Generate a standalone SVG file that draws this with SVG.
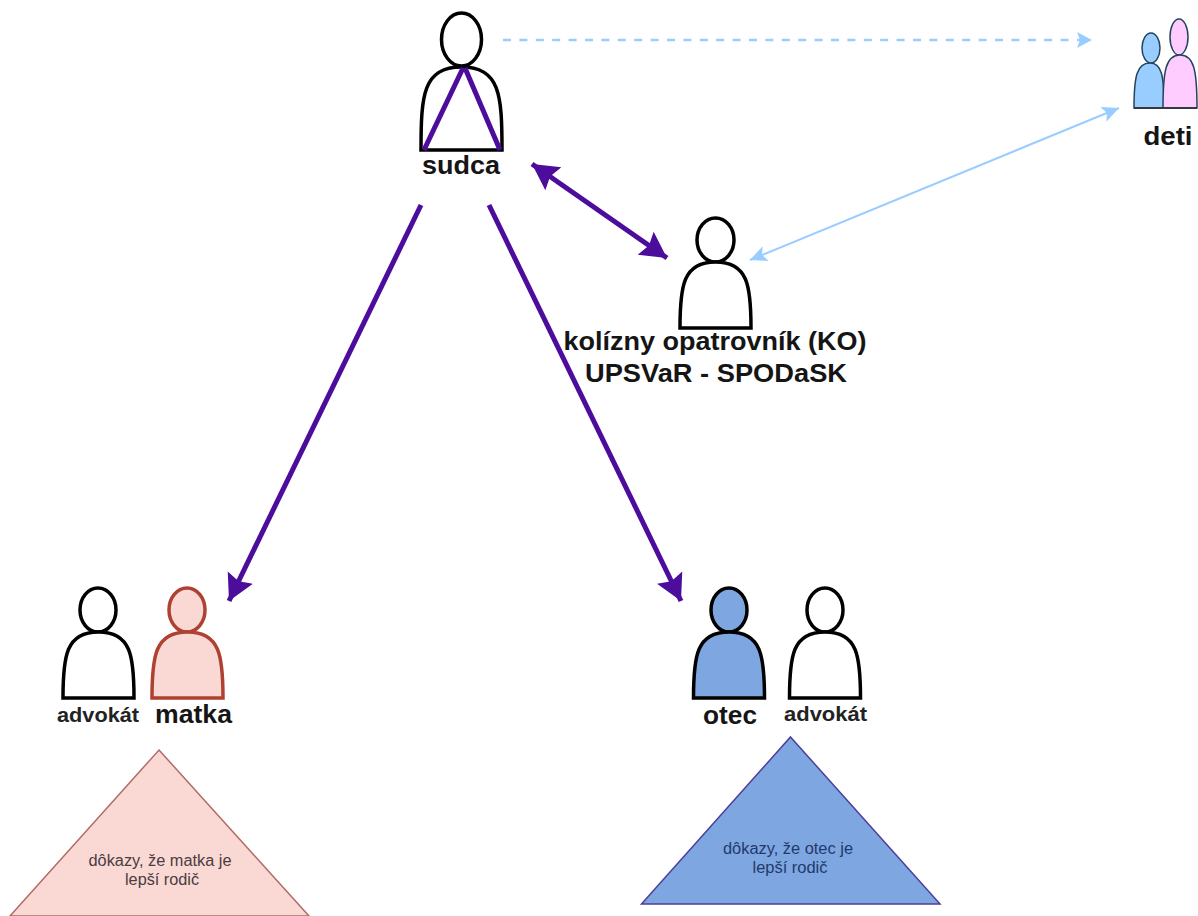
<svg xmlns="http://www.w3.org/2000/svg" width="1198" height="916" viewBox="0 0 1198 916">
<defs>
<path id="p" d="M0,0 C0,-42 3,-66 35.500,-66 C68,-66 71,-42 71,0 Z"/>
<marker id="ap" markerUnits="userSpaceOnUse" markerWidth="30" markerHeight="30" refX="26" refY="15" orient="auto-start-reverse" viewBox="0 0 30 30"><path d="M0,1 L26,15 L0,29 L4,15 Z" fill="#4c0c9c"/></marker>
<marker id="ab" markerUnits="userSpaceOnUse" markerWidth="20" markerHeight="20" refX="17" refY="10" orient="auto-start-reverse" viewBox="0 0 20 20"><path d="M0,2 L17,10 L0,18 L4,10 Z" fill="#99ccff"/></marker>
</defs>
<style>
text{font-family:"Liberation Sans",Arial,sans-serif;text-anchor:middle;fill:#151515}
.b{font-weight:bold;font-size:26px}
.s{font-weight:bold;font-size:20.500px;fill:#222}
.t{font-size:16px;fill:#4a3c40}
.u{font-size:16px;fill:#233a6e}
.w{fill:#fff;stroke:#000;stroke-width:3.500}
.pur{fill:none;stroke:#4c0c9c;stroke-width:5}
.lb{fill:none;stroke:#99ccff;stroke-width:2.500}
</style>
<rect width="1198" height="916" fill="#fff"/>
<g id="sudca">
<ellipse class="w" cx="461.500" cy="39.500" rx="20" ry="26.500"/>
<path class="w" d="M421,150 C421,95 423,67 461.500,67 C500,67 502,95 502,150 Z"/>
<text class="b" x="461" y="174" textLength="78" lengthAdjust="spacingAndGlyphs">sudca</text>
</g>
<g id="deti">
<ellipse cx="1151" cy="48" rx="9" ry="15" fill="#99ccff" stroke="#23445d" stroke-width="1.500"/>
<path d="M1134,108 C1134,76 1137,63 1150,63 C1162,63 1164,76 1164,108 Z" fill="#99ccff" stroke="#23445d" stroke-width="1.500"/>
<ellipse cx="1179" cy="37" rx="9" ry="18" fill="#ffccff" stroke="#23445d" stroke-width="1.500"/>
<path d="M1163,108 C1163,70 1166,55 1180,55 C1194,55 1197,70 1197,108 Z" fill="#ffccff" stroke="#23445d" stroke-width="1.500"/>
<path d="M1134,108 L1197,108" fill="none" stroke="#36393d" stroke-width="2"/>
<text class="b" x="1168" y="145" textLength="49" lengthAdjust="spacingAndGlyphs">deti</text>
</g>
<g id="ko">
<ellipse class="w" cx="715.500" cy="240" rx="18.500" ry="22"/>
<use href="#p" class="w" x="680" y="328"/>
<text class="b" x="715" y="350" textLength="303" lengthAdjust="spacingAndGlyphs">kolízny opatrovník (KO)</text>
<text class="b" x="716" y="382" textLength="262" lengthAdjust="spacingAndGlyphs">UPSVaR - SPODaSK</text>
</g>
<g id="advokat1">
<ellipse class="w" cx="98" cy="610" rx="18" ry="22"/>
<use href="#p" class="w" x="63" y="698"/>
<text class="s" x="98" y="722" textLength="82" lengthAdjust="spacingAndGlyphs">advokát</text>
</g>
<g id="matka">
<ellipse cx="187" cy="610" rx="18" ry="22" fill="#fad9d5" stroke="#ae4132" stroke-width="3.500"/>
<use href="#p" x="152" y="698" fill="#fad9d5" stroke="#ae4132" stroke-width="3.500"/>
<text class="b" x="193.500" y="723" textLength="77" lengthAdjust="spacingAndGlyphs">matka</text>
</g>
<g id="otec">
<ellipse cx="729" cy="610" rx="18" ry="22" fill="#7ea6e0" stroke="#000" stroke-width="3.500"/>
<use href="#p" x="693.500" y="698" fill="#7ea6e0" stroke="#000" stroke-width="3.500"/>
<text class="b" x="730" y="724" textLength="54" lengthAdjust="spacingAndGlyphs">otec</text>
</g>
<g id="advokat2">
<ellipse class="w" cx="825" cy="610" rx="18" ry="22"/>
<use href="#p" class="w" x="789.500" y="698"/>
<text class="s" x="825.500" y="721" textLength="83" lengthAdjust="spacingAndGlyphs">advokát</text>
</g>
<g id="dokazy-matka">
<path d="M159,750 L309,916 L10,916 Z" fill="#fad9d5" stroke="#b36b66" stroke-width="1.500"/>
<text class="t" x="160" y="866" textLength="143" lengthAdjust="spacingAndGlyphs">dôkazy, že matka je</text>
<text class="t" x="162" y="885" textLength="74" lengthAdjust="spacingAndGlyphs">lepší rodič</text>
</g>
<g id="dokazy-otec">
<path d="M790.500,737 L940,904 L641.500,904 Z" fill="#7ea6e0" stroke="#4c3f9c" stroke-width="1.500"/>
<text class="u" x="788" y="854" textLength="130" lengthAdjust="spacingAndGlyphs">dôkazy, že otec je</text>
<text class="u" x="790" y="873" textLength="75" lengthAdjust="spacingAndGlyphs">lepší rodič</text>
</g>
<g id="connectors">
<path class="pur" d="M463,68 L424,150"/>
<path class="pur" d="M465,68 L500,150"/>
<path class="lb" stroke-dasharray="8 8.400" d="M503,40 L1080,40"/>
<path d="M1077,32 L1092,40 L1077,48 L1080,40 Z" fill="#99ccff"/>
<path class="lb" style="stroke-width:2" d="M750,260 L1119,108" marker-start="url(#ab)" marker-end="url(#ab)"/>
<path class="pur" d="M532,164 L667,258" marker-start="url(#ap)" marker-end="url(#ap)"/>
<path class="pur" d="M421,205 L229,601" marker-end="url(#ap)"/>
<path class="pur" d="M489,205 L681,601" marker-end="url(#ap)"/>
</g>
</svg>
